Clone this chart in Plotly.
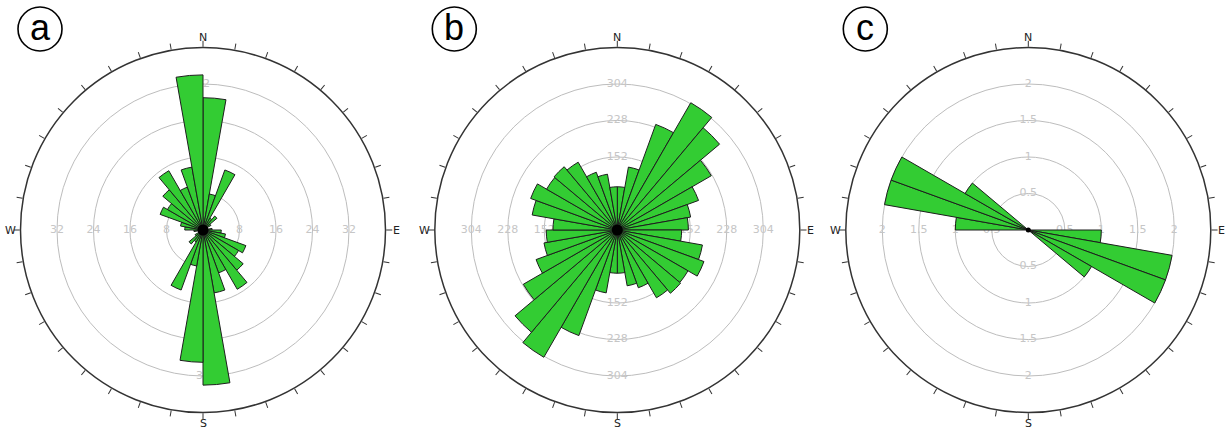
import plotly.graph_objects as go

W, H = 1225, 432

# Bin centres of the 10-degree sectors, measured clockwise from north
bin_centres = list(range(5, 360, 10))

# Panel a: counts per 10-degree sector (0-10, 10-20, ..., 350-360)
counts_a = [29, 8, 14, 3, 4, 2, 1, 1, 2, 4, 5, 10, 9, 11.5, 15, 10, 14, 34,
            29, 8, 14, 3, 4, 2, 1, 1, 2, 4, 5, 10, 9, 11.5, 15, 10, 14, 34]
# Panel b
counts_b = [90, 133, 234, 306, 278, 226, 180, 155, 148, 134, 180, 192, 170, 172, 163, 128, 118, 90,
            90, 133, 234, 306, 278, 226, 180, 155, 148, 134, 180, 192, 170, 172, 163, 128, 118, 90]
# Panel c
counts_c = [0, 0, 0, 0, 0, 0, 0, 0, 0, 1, 2, 2, 1, 0, 0, 0, 0, 0,
            0, 0, 0, 0, 0, 0, 0, 0, 0, 1, 2, 2, 1, 0, 0, 0, 0, 0]

# Ring values and their labels
rings_a = [8, 16, 24, 32]
ring_labels_a = ["8", "16", "24", "32"]
rings_b = [76, 152, 228, 304]
ring_labels_b = ["76", "152", "228", "304"]
rings_c = [0.5, 1, 1.5, 2]
ring_labels_c = ["0.5", "1", "1.5", "2"]

# Outer radius of each diagram
outer_a, outer_b, outer_c = 40, 380, 2.5

panel_letters = ["a", "b", "c"]
compass_ticks = list(range(0, 360, 10))
cardinal_names = ["N", "E", "S", "W"]

FILL = "#33cc33"
EDGE = "#1e1e1e"
GRID = "#bdbdbd"
LABEL = "#c6c6c6"
FONT = "DejaVu Sans"

R_PX = 182.5
LABEL_OFFSET_PX = 193
centres_px = [(203, 230), (617.3, 230), (1028.3, 230)]

panels = [
    (counts_a, rings_a, ring_labels_a, outer_a, 11),
    (counts_b, rings_b, ring_labels_b, outer_b, 11),
    (counts_c, rings_c, ring_labels_c, outer_c, 5),
]

fig = go.Figure()
layout = dict(
    width=W, height=H,
    margin=dict(l=0, r=0, t=0, b=0),
    paper_bgcolor="white",
    showlegend=False,
    shapes=[], annotations=[],
)

for i, (counts, rings, ring_labels, outer, hub) in enumerate(panels):
    cx, cy = centres_px[i]
    dom_x = [(cx - R_PX) / W, (cx + R_PX) / W]
    dom_y = [1 - (cy + R_PX) / H, 1 - (cy - R_PX) / H]
    low = "polar" if i == 0 else f"polar{2 * i + 1}"
    up = f"polar{2 * i + 2}"

    # lower layer: grid rings and their labels along the four cardinal directions
    n = len(rings)
    fig.add_trace(go.Scatterpolar(
        r=rings * 4,
        theta=[0] * n + [90] * n + [180] * n + [270] * n,
        text=ring_labels * 4,
        mode="text",
        textfont=dict(family=FONT, size=11, color=LABEL),
        hoverinfo="skip",
        subplot=low,
    ))
    layout[low] = dict(
        domain=dict(x=dom_x, y=dom_y),
        bgcolor="white",
        radialaxis=dict(range=[0, outer], tickvals=rings, showticklabels=False,
                        ticks="", showline=False, showgrid=True,
                        gridcolor=GRID, gridwidth=1),
        angularaxis=dict(direction="clockwise", rotation=90, showgrid=False,
                         showline=False, showticklabels=False, ticks=""),
    )

    # upper layer: sectors, hub and compass rim with 10-degree ticks
    fig.add_trace(go.Barpolar(
        r=counts,
        theta=bin_centres,
        width=[10] * len(bin_centres),
        marker=dict(color=FILL, line=dict(color=EDGE, width=1)),
        hoverinfo="r+theta",
        subplot=up,
    ))
    fig.add_trace(go.Scatterpolar(
        r=[0], theta=[0], mode="markers",
        marker=dict(color="black", size=hub),
        hoverinfo="skip",
        subplot=up,
    ))
    layout[up] = dict(
        domain=dict(x=dom_x, y=dom_y),
        bgcolor="rgba(0,0,0,0)",
        bargap=0,
        radialaxis=dict(range=[0, outer], showticklabels=False, ticks="",
                        showline=False, showgrid=False),
        angularaxis=dict(direction="clockwise", rotation=90, showgrid=False,
                         showline=True, linecolor="#333333", linewidth=1.5,
                         ticks="outside", ticklen=6, tickwidth=1, tickcolor="#333333",
                         tickmode="array", tickvals=compass_ticks,
                         showticklabels=False),
    )

    # compass letters just outside the rim
    offsets = [(0, -LABEL_OFFSET_PX), (LABEL_OFFSET_PX, 0), (0, LABEL_OFFSET_PX), (-LABEL_OFFSET_PX, 0)]
    for name, (dx, dy) in zip(cardinal_names, offsets):
        layout["annotations"].append(dict(
            x=(cx + dx) / W, y=1 - (cy + dy) / H, xref="paper", yref="paper",
            text=name, showarrow=False, xanchor="center", yanchor="middle",
            font=dict(family=FONT, size=11, color="#222222"),
        ))

    # circled panel letter
    lx, ly, lr = cx - 163, 29, 22
    layout["shapes"].append(dict(
        type="circle", xref="paper", yref="paper",
        x0=(lx - lr) / W, x1=(lx + lr) / W,
        y0=1 - (ly + lr) / H, y1=1 - (ly - lr) / H,
        line=dict(color="black", width=1.6),
    ))
    layout["annotations"].append(dict(
        x=lx / W, y=1 - (ly - 2) / H, xref="paper", yref="paper",
        text=panel_letters[i], showarrow=False,
        xanchor="center", yanchor="middle",
        font=dict(family="Liberation Sans", size=36, color="black"),
    ))

fig.update_layout(**layout)
fig.write_html("out.html")
